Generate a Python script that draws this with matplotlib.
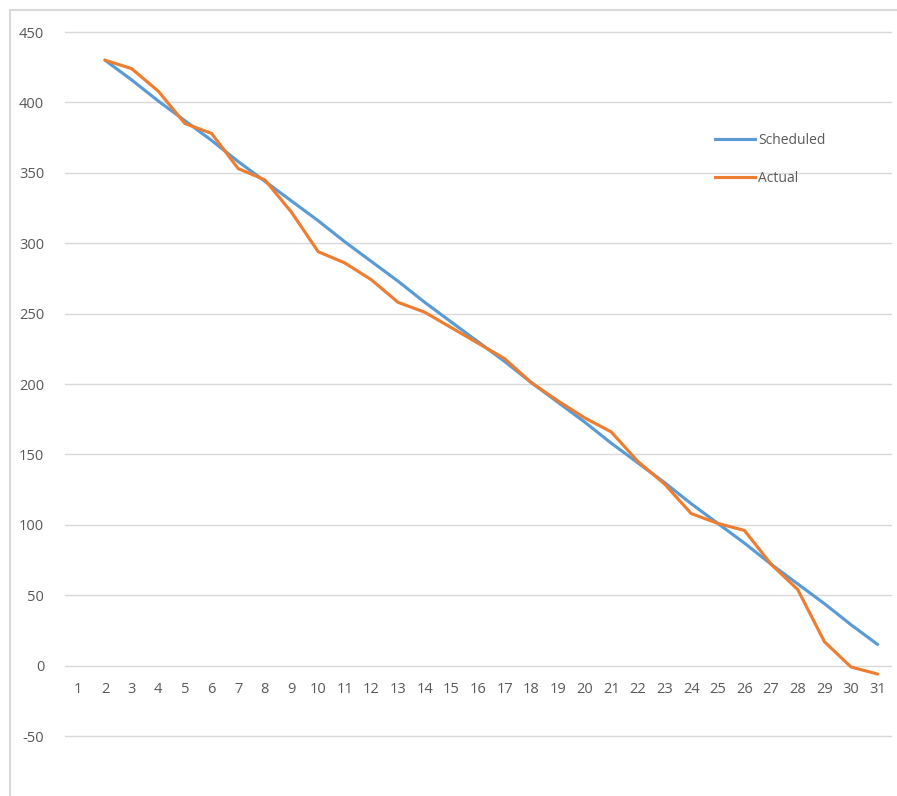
import numpy as np
import matplotlib
matplotlib.use("Agg")
import matplotlib.pyplot as plt
from matplotlib.patches import Rectangle
from matplotlib.lines import Line2D

plt.rcParams['font.family'] = ['Open Sans', 'DejaVu Sans']

# Burndown data: remaining work per day (day 1 has no entry)
days = list(range(1, 32))
scheduled = [np.nan, 430, 416, 401, 387, 373, 358, 344, 330, 316, 301, 287, 273,
             258, 244, 230, 216, 201, 187, 173, 158, 144, 130, 115, 101, 87,
             72, 58, 44, 29, 15]
actual = [np.nan, 430, 424, 408, 385, 378, 353, 345, 322, 294, 286, 274, 258,
          251, 240, 229, 218, 201, 188, 176, 166, 145, 129, 108, 101, 96,
          72, 54, 17, -1, -6]
series_names = ["Scheduled", "Actual"]
y_ticks = [-50, 0, 50, 100, 150, 200, 250, 300, 350, 400, 450]

W, H = 897, 796
fig = plt.figure(figsize=(W / 100, H / 100), dpi=100)
fig.patch.set_facecolor("white")

# chart frame
fig.patches.append(Rectangle((10 / W, -0.1), 1.2, 1 - 10 / H + 0.1,
                             transform=fig.transFigure, fill=False,
                             edgecolor="#D9D9D9", linewidth=1.5, zorder=0))

left, right, top, bottom = 65, 891, 32, 736
ax = fig.add_axes([left / W, 1 - bottom / H, (right - left) / W, (bottom - top) / H])

text_col = "#595959"
blue = "#5B9BD5"
orange = "#ED7D31"

ax.set_xlim(0.5, 31.5)
ax.set_ylim(-50, 450)
ax.set_yticks(y_ticks)
ax.set_yticklabels([str(v) for v in y_ticks])
ax.tick_params(axis="y", length=0, pad=15, labelsize=10.5, labelcolor=text_col)
ax.set_xticks([])
for s in ax.spines.values():
    s.set_visible(False)

# horizontal gridlines, unclipped so the bottom one shows in full
for v in y_ticks:
    ax.axhline(v, color="#D9D9D9", linewidth=1.0, zorder=1, clip_on=False)

# day labels below the zero line
for d in days:
    ax.annotate(str(d), (d, 0), xytext=(0, -17), textcoords="offset points",
                ha="center", va="center", fontsize=10.5, color=text_col)

ax.plot(days, scheduled, color=blue, linewidth=2.25, solid_capstyle="round",
        solid_joinstyle="round", zorder=3)
ax.plot(days, actual, color=orange, linewidth=2.25, solid_capstyle="round",
        solid_joinstyle="round", zorder=4)

handles = [Line2D([], [], color=blue, linewidth=2.25),
           Line2D([], [], color=orange, linewidth=2.25)]
leg = fig.legend(handles, series_names, loc="upper left",
                 bbox_to_anchor=(715 / W, 1 - 133 / H),
                 frameon=False, fontsize=10, handlelength=2.9,
                 handletextpad=0.2, labelspacing=1.65, borderpad=0,
                 borderaxespad=0)
for t in leg.get_texts():
    t.set_color(text_col)

fig.savefig("out.png", dpi=100, facecolor="white")
